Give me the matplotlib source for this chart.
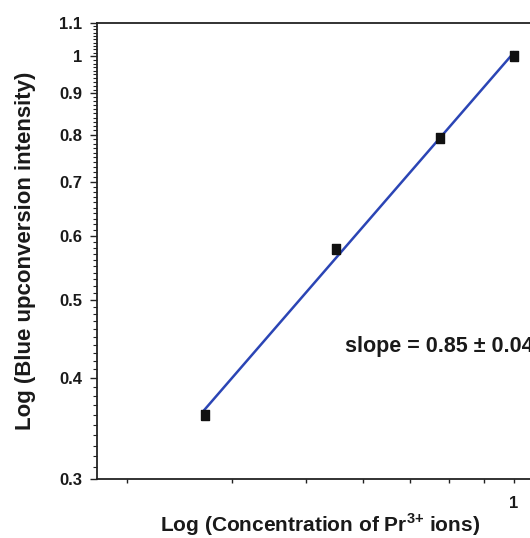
"""Log-log plot of blue upconversion intensity vs Pr3+ concentration."""

import numpy as np
import matplotlib

matplotlib.use("Agg")
import matplotlib.pyplot as plt
from matplotlib.ticker import FixedLocator, FuncFormatter, NullFormatter

plt.rcParams["font.family"] = ["Liberation Sans", "DejaVu Sans"]
plt.rcParams["font.weight"] = "bold"
plt.rcParams["mathtext.fontset"] = "custom"
plt.rcParams["mathtext.rm"] = "Liberation Sans"
plt.rcParams["mathtext.bf"] = "Liberation Sans:bold"

# data
concentration = [0.3, 0.5, 0.75, 1.0]
intensity = [0.36, 0.578, 0.793, 1.0]
y_major = [0.3, 0.4, 0.5, 0.6, 0.7, 0.8, 0.9, 1.0, 1.1]
x_ticks = [2 / 9, 3 / 9, 4 / 9, 5 / 9, 6 / 9, 7 / 9, 8 / 9, 1.0]
slope_text = "slope = 0.85 \u00b1 0.04"

LINE_COLOR = "#2b45b5"
INK = "#1a1a1a"

fig = plt.figure(figsize=(5.3, 5.38), dpi=100)
ax = fig.add_axes([0.1836, 0.1097, 0.841, 0.8476])

# power-law fit in log-log space
lx, ly = np.log(concentration), np.log(intensity)
k, b = np.polyfit(lx, ly, 1)
xf = np.array([concentration[0], concentration[-1]])
ax.plot(xf, np.exp(b) * xf**k, color=LINE_COLOR, lw=1.8, zorder=2)

rect = [(-0.36, -0.5), (0.36, -0.5), (0.36, 0.5), (-0.36, 0.5), (-0.36, -0.5)]
ax.plot(concentration, intensity, linestyle="none", marker=rect, markersize=7.5,
        color="#111111", zorder=3)

ax.set_xscale("log")
ax.set_yscale("log")
ax.set_xlim(0.1976, 1.12)
ax.set_ylim(0.3, 1.1)

ax.xaxis.set_major_locator(FixedLocator(x_ticks))
ax.xaxis.set_major_formatter(FuncFormatter(lambda v, p: "1" if abs(v - 1) < 1e-6 else ""))
ax.xaxis.set_minor_locator(FixedLocator([]))
ax.yaxis.set_major_locator(FixedLocator(y_major))
ax.yaxis.set_major_formatter(FuncFormatter(lambda v, p: f"{v:g}"))
ax.yaxis.set_minor_locator(FixedLocator(np.round(np.arange(0.31, 1.1, 0.01), 2)))
ax.yaxis.set_minor_formatter(NullFormatter())

ax.tick_params(axis="x", which="major", direction="out", length=3, width=1,
               labelsize=12, pad=9, color="#222222", labelcolor=INK)
ax.tick_params(axis="y", which="major", direction="out", length=5.3, width=1,
               labelsize=12, pad=5.5, color="#222222", labelcolor=INK)
ax.tick_params(axis="y", which="minor", direction="out", length=2.9, width=0.8,
               color="#222222")

for side in ["left", "bottom", "top"]:
    ax.spines[side].set_linewidth(1.3)
    ax.spines[side].set_color("#222222")
ax.spines["right"].set_visible(False)

ax.set_xlabel("Log (Concentration of Pr$^{\\mathrm{3{+}}}$ ions)", fontsize=15,
              fontweight="bold", labelpad=0.5, color=INK)
ax.set_ylabel("Log (Blue upconversion intensity)", fontsize=16,
              fontweight="bold", labelpad=17, color=INK)

# the reference figure is cropped through this label on the right
ax.text(0.518, 0.437, slope_text, fontsize=15.5, fontweight="bold",
        ha="left", va="center", color=INK)

fig.savefig("out.png", dpi=100)
